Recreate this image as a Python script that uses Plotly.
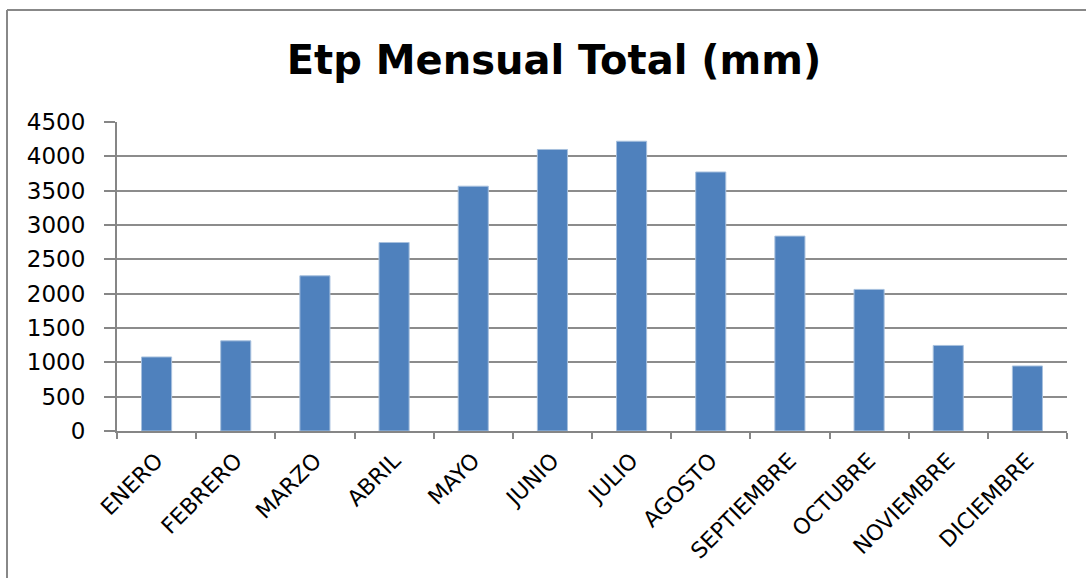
import plotly.graph_objects as go

months = ["ENERO", "FEBRERO", "MARZO", "ABRIL", "MAYO", "JUNIO", "JULIO",
          "AGOSTO", "SEPTIEMBRE", "OCTUBRE", "NOVIEMBRE", "DICIEMBRE"]
etp = [1078, 1313, 2260, 2745, 3565, 4100, 4220, 3772, 2838, 2062, 1246, 947]
y_ticks = [0, 500, 1000, 1500, 2000, 2500, 3000, 3500, 4000, 4500]

W, H = 1086, 578
L, R, T, B = 117, 19, 122, 147
pw, ph = W - L - R, H - T - B

fig = go.Figure(go.Bar(
    x=months, y=etp,
    marker=dict(color="#4F81BD", line=dict(color="#A7C0DE", width=1)),
))

def px_x(p):
    return (p - L) / pw

def px_y(p):
    return 1 - (p - T) / ph

FONT = "DejaVu Sans"

fig.update_layout(
    width=W, height=H,
    margin=dict(l=L, r=R, t=T, b=B),
    paper_bgcolor="white", plot_bgcolor="white",
    bargap=0.62,
    showlegend=False,
    title=dict(text="<b>Etp Mensual Total (mm)</b>", x=554 / W, xanchor="center",
               y=1 - 60 / H, yanchor="middle",
               font=dict(family=FONT, size=40, color="black")),
    font=dict(family=FONT, color="black"),
    shapes=[
        dict(type="line", xref="paper", yref="paper",
             x0=px_x(7), x1=px_x(1086), y0=px_y(10), y1=px_y(10),
             line=dict(color="#888888", width=2)),
        dict(type="line", xref="paper", yref="paper",
             x0=px_x(7), x1=px_x(7), y0=px_y(10), y1=px_y(578),
             line=dict(color="#888888", width=2)),
    ],
)

fig.update_xaxes(
    tickangle=-45,
    tickfont=dict(family=FONT, size=22, color="black"),
    showline=True, linecolor="#868686", linewidth=2,
    ticks="outside", tickson="boundaries", ticklen=6, tickcolor="#868686", tickwidth=2,
    ticklabelstandoff=6,
    showgrid=False,
)
fig.update_yaxes(
    range=[0, 4500],
    tickvals=y_ticks,
    tickfont=dict(family=FONT, size=23, color="black"),
    showline=True, linecolor="#868686", linewidth=2,
    ticks="outside", ticklen=11, tickcolor="#868686", tickwidth=2,
    ticklabelstandoff=14,
    showgrid=True, gridcolor="#8C8C8C", gridwidth=2,
    zeroline=False,
)

fig.write_html("out.html")
